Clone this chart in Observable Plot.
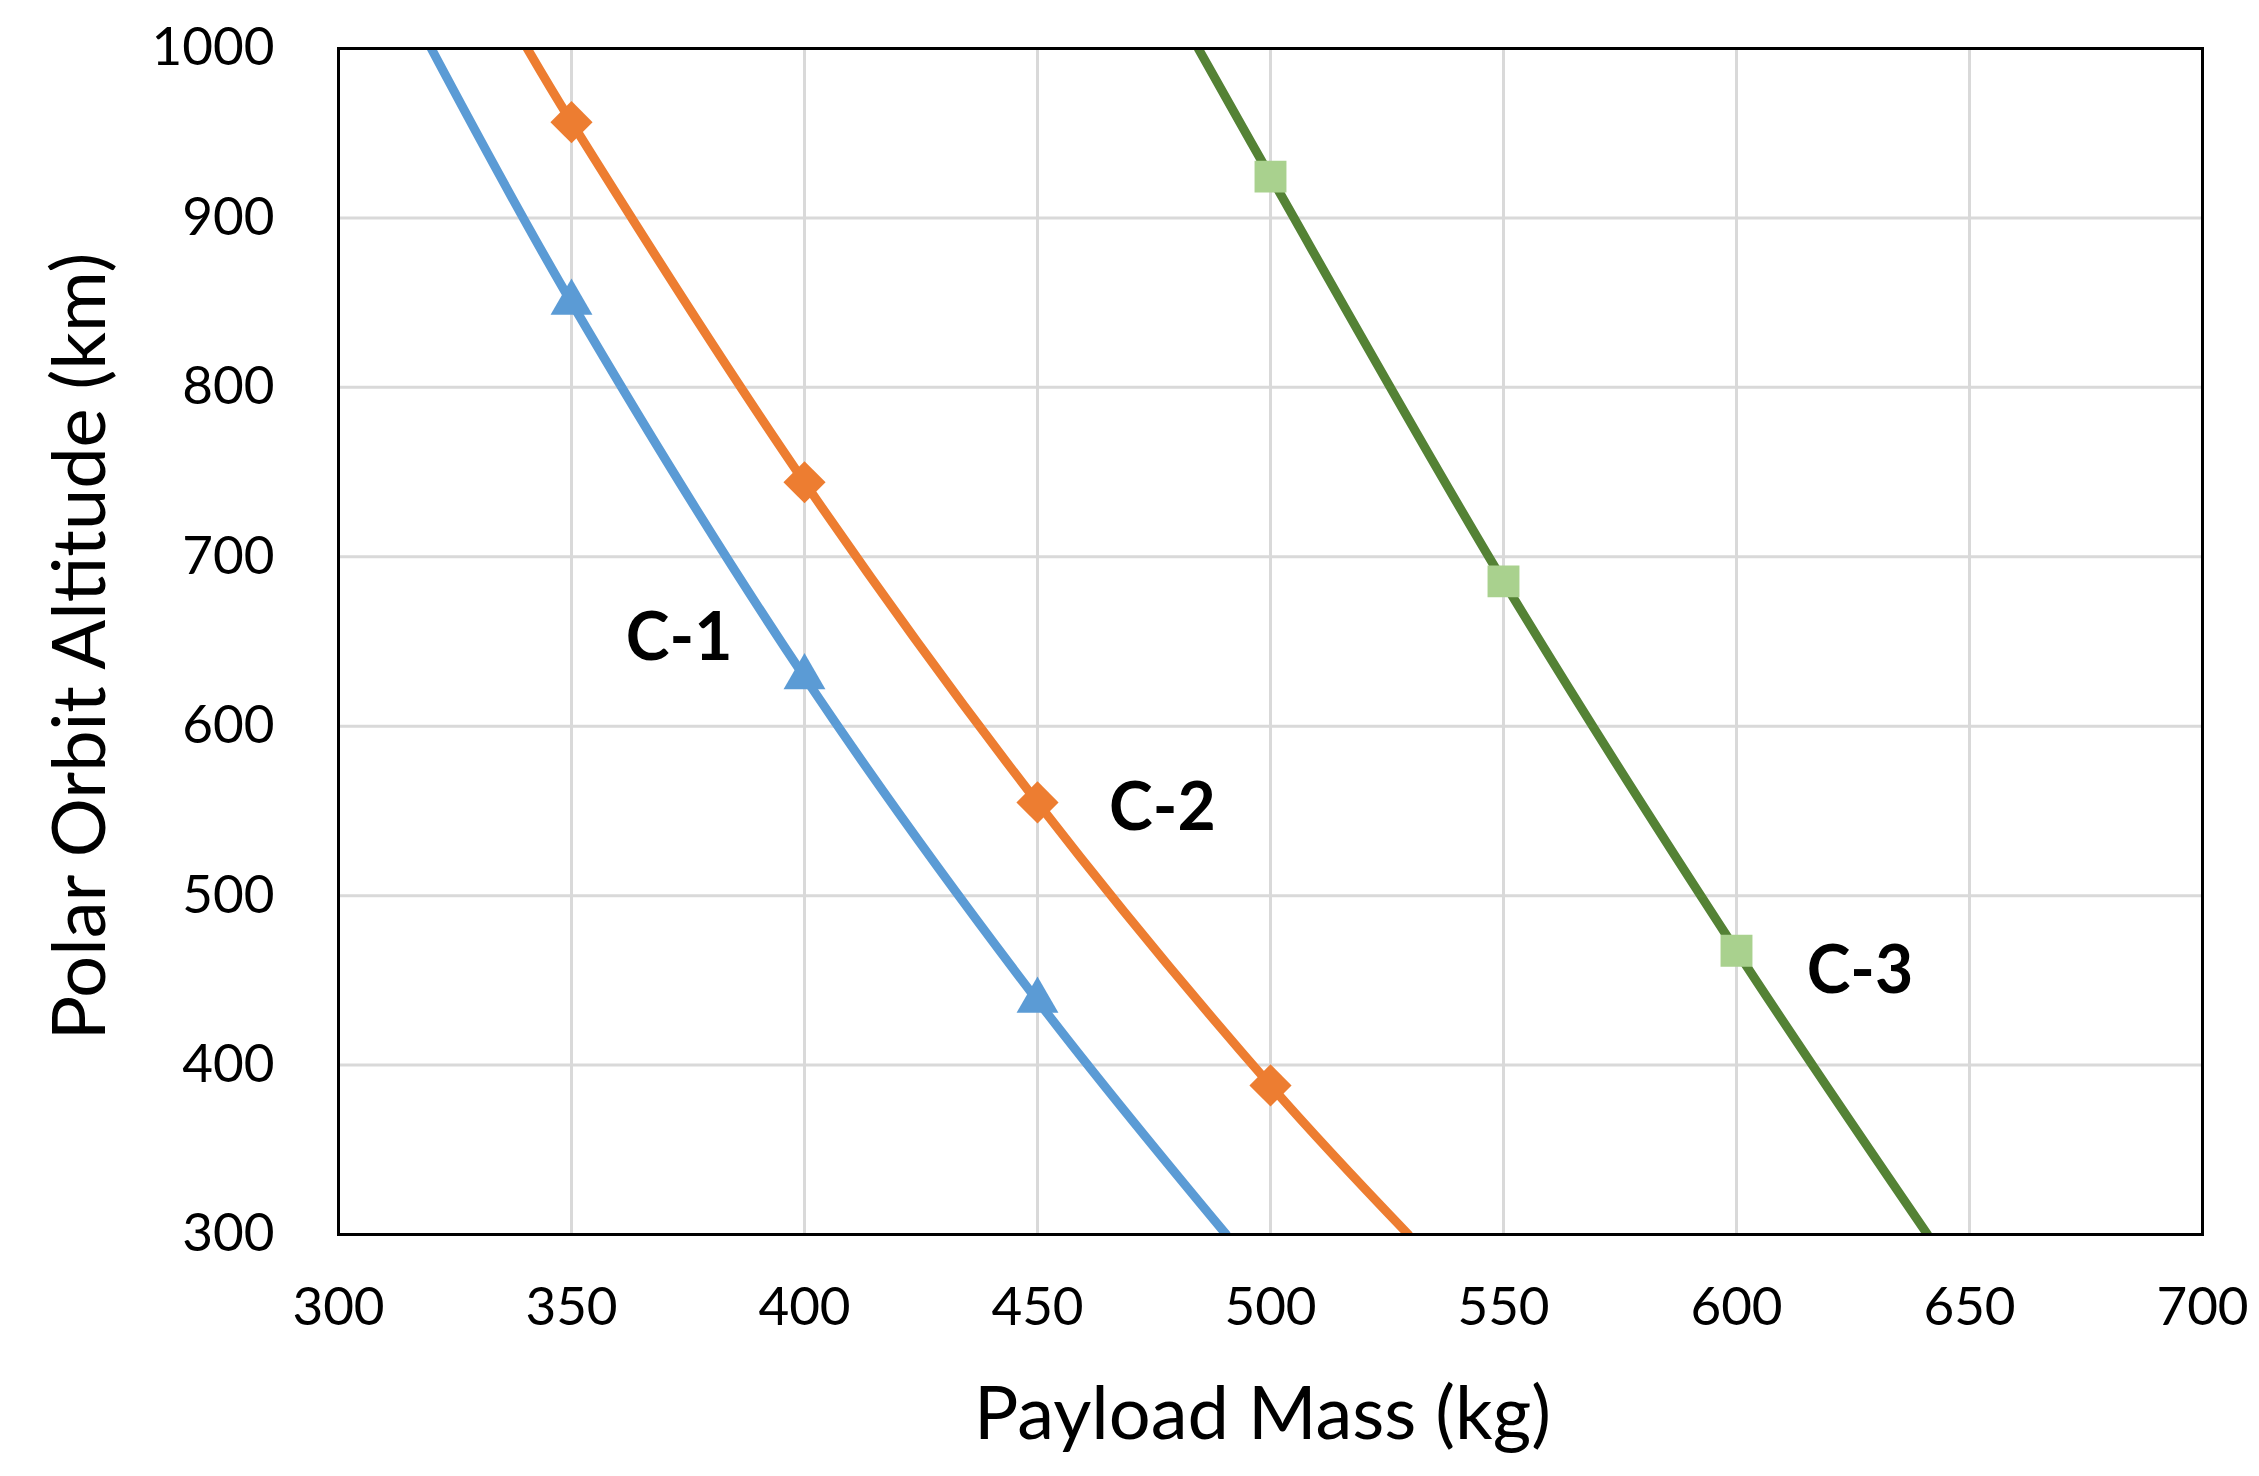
<!DOCTYPE html>
<html>
<head>
<meta charset="utf-8">
<script src="https://cdn.jsdelivr.net/npm/d3@7"></script>
<script src="https://cdn.jsdelivr.net/npm/@observablehq/plot@0.6"></script>
<style>
  html, body { margin: 0; padding: 0; background: #fff; overflow: hidden; }
</style>
</head>
<body>
<div id="chart"></div>
<script>
// Curve C-1 (blue, triangles)
const c1Mass = [319.9, 350, 400, 450, 490.5];
const c1Alt  = [1000, 850, 629, 438, 300];
const c1MarkMass = [350, 400, 450];
const c1MarkAlt  = [850, 629, 438];

// Curve C-2 (orange, diamonds)
const c2Mass = [340.5, 350, 400, 450, 500, 529.6];
const c2Alt  = [1000, 956.5, 744, 555, 388, 300];
const c2MarkMass = [350, 400, 450, 500];
const c2MarkAlt  = [956.5, 744, 555, 388];

// Curve C-3 (green, squares)
const c3Mass = [484.5, 500, 550, 600, 641];
const c3Alt  = [1000, 924.4, 685.5, 467.5, 300];
const c3MarkMass = [500, 550, 600];
const c3MarkAlt  = [924.4, 685.5, 467.5];

// Curve labels
const labelText = ["C-1", "C-2", "C-3"];
const labelMass = [373.1, 476.8, 626.5];
const labelAlt  = [651.5, 551.3, 455];

// Axis ticks
const xTicks = [300, 350, 400, 450, 500, 550, 600, 650, 700];
const yTicks = [300, 400, 500, 600, 700, 800, 900, 1000];
const xGrid = [350, 400, 450, 500, 550, 600, 650];
const yGrid = [400, 500, 600, 700, 800, 900];

const xTitle = "Payload Mass (kg)";
const yTitle = "Polar Orbit Altitude (km)";

const toRows = (xs, ys) => xs.map((x, i) => ({mass: x, alt: ys[i]}));
const c1 = toRows(c1Mass, c1Alt), c1m = toRows(c1MarkMass, c1MarkAlt);
const c2 = toRows(c2Mass, c2Alt), c2m = toRows(c2MarkMass, c2MarkAlt);
const c3 = toRows(c3Mass, c3Alt), c3m = toRows(c3MarkMass, c3MarkAlt);
const labels = labelText.map((t, i) => ({text: t, mass: labelMass[i], alt: labelAlt[i]}));

const chart = Plot.plot({
  width: 2259,
  height: 1476,
  marginTop: 48,
  marginBottom: 242,
  marginLeft: 338,
  marginRight: 57,
  style: {fontFamily: "Lato, 'Open Sans', sans-serif", fontSize: "53px", color: "#000", background: "#fff"},
  x: {domain: [300, 700]},
  y: {domain: [300, 1000]},
  marks: [
    Plot.gridX(xGrid, {stroke: "#d9d9d9", strokeOpacity: 1, strokeWidth: 3}),
    Plot.gridY(yGrid, {stroke: "#d9d9d9", strokeOpacity: 1, strokeWidth: 3}),
    Plot.axisX({ticks: xTicks, tickSize: 0, tickPadding: 53, label: null, tickFormat: d => String(d), fill: "#000"}),
    Plot.axisY({ticks: yTicks, tickSize: 0, tickPadding: 64, label: null, tickFormat: d => String(d), fill: "#000"}),
    Plot.line(c1, {x: "mass", y: "alt", stroke: "#5B9BD5", strokeWidth: 9, curve: "catmull-rom", clip: true}),
    Plot.line(c2, {x: "mass", y: "alt", stroke: "#ED7D31", strokeWidth: 9, curve: "catmull-rom", clip: true}),
    Plot.line(c3, {x: "mass", y: "alt", stroke: "#548235", strokeWidth: 9, curve: "catmull-rom", clip: true}),
    Plot.dot(c1m, {x: "mass", y: "alt", symbol: "triangle2", r: 20, fill: "#5B9BD5", stroke: "none"}),
    Plot.dot(c2m, {x: "mass", y: "alt", symbol: "diamond2", r: 19, fill: "#ED7D31", stroke: "none"}),
    Plot.dot(c3m, {x: "mass", y: "alt", symbol: "square", r: 18, fill: "#A9D18E", stroke: "none"}),
    Plot.text(labels, {x: "mass", y: "alt", text: "text", fontSize: 66, fontWeight: "bold", fill: "#000"}),
    Plot.text([xTitle], {text: d => d, frameAnchor: "bottom", dx: -8, dy: 204, fontSize: 74, fill: "#000"}),
    Plot.text([yTitle], {text: d => d, frameAnchor: "left", textAnchor: "middle", dx: -257, dy: 5, rotate: -90, fontSize: 74, fill: "#000"}),
    Plot.frame({stroke: "#000", strokeWidth: 3})
  ]
});
document.getElementById("chart").appendChild(chart);
</script>
</body>
</html>
